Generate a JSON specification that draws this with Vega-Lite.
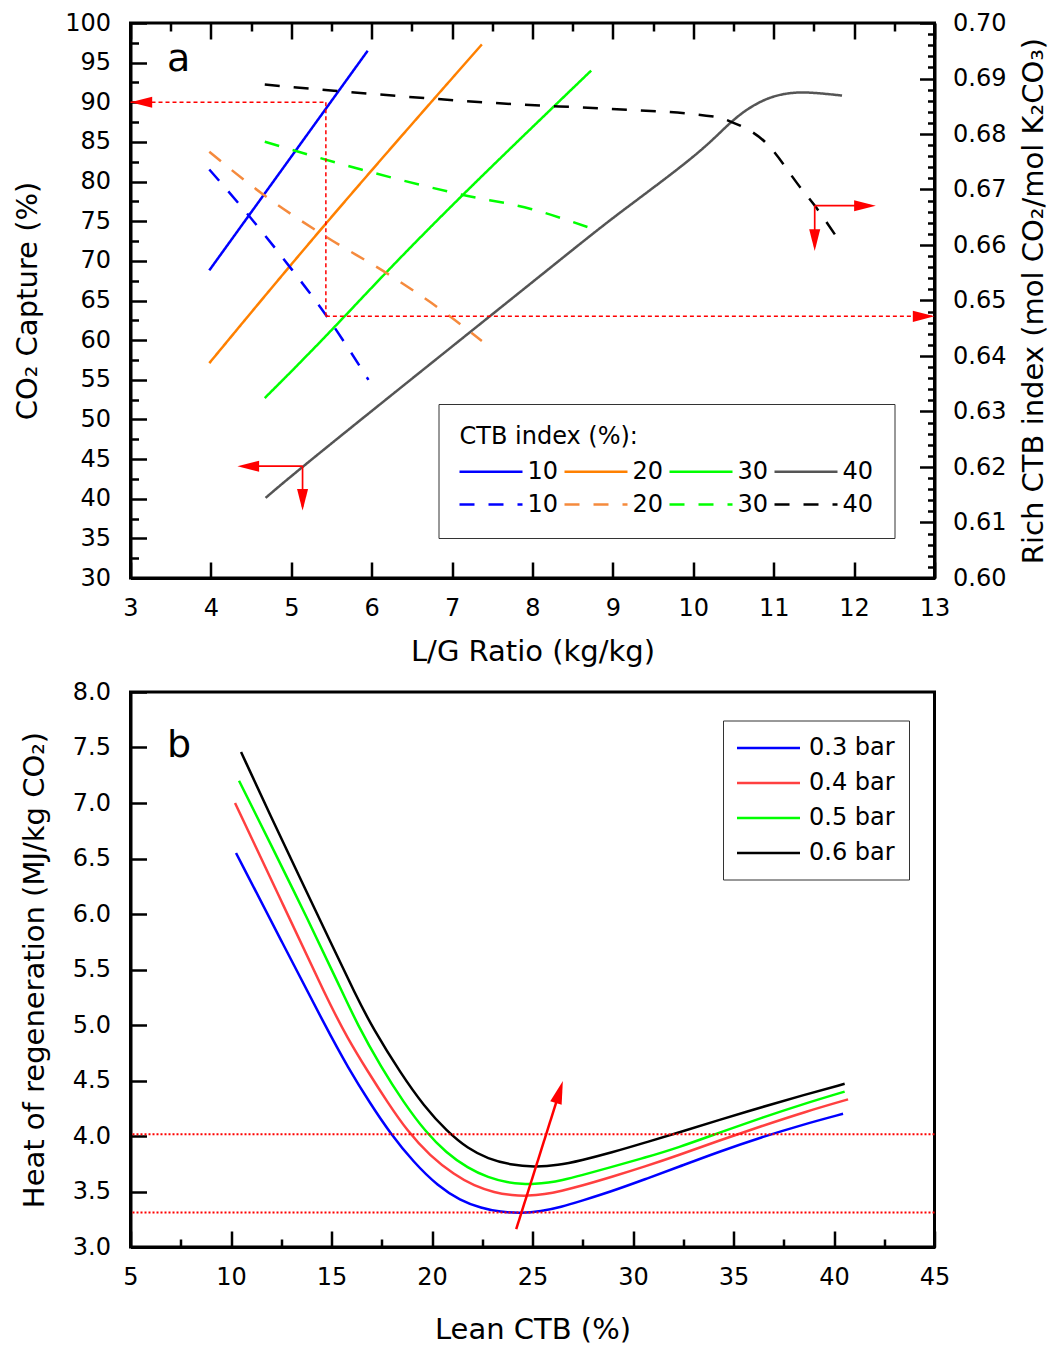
{
  "$schema": "https://vega.github.io/schema/vega-lite/v6.json",
  "background": "white",
  "padding": {"left": 11.5, "top": 9, "right": 5, "bottom": 3},
  "spacing": 114,
  "bounds": "flush",
  "config": {
    "font": "DejaVu Sans",
    "view": {"stroke": "black", "strokeWidth": 3},
    "axis": {
      "labelFont": "DejaVu Sans", "labelFontSize": 24, "labelColor": "black",
      "titleFont": "DejaVu Sans", "titleFontSize": 29, "titleFontWeight": "normal", "titleColor": "black",
      "domainColor": "black", "domainWidth": 3, "tickColor": "black", "tickWidth": 2.5,
      "grid": false, "labelFlush": false, "labelOverlap": false
    },
    "legend": {
      "labelFont": "DejaVu Sans", "labelFontSize": 24, "labelColor": "black",
      "titleFont": "DejaVu Sans", "titleFontSize": 24, "titleFontWeight": "normal", "titleColor": "black"
    }
  },
  "resolve": {
    "scale": {"color": "independent", "strokeDash": "independent"},
    "legend": {"color": "independent", "strokeDash": "independent"}
  },
  "vconcat": [
    {
      "width": 804,
      "height": 555,
      "resolve": {"scale": {"y": "independent"}, "axis": {"x": "independent", "y": "independent"}},
      "layer": [
        {
          "data": {"values": [
            {"key": "s10", "lg": 3.98, "capture": 68.8},
            {"key": "s10", "lg": 5.95, "capture": 96.5},
            {"key": "s20", "lg": 3.98, "capture": 57.1},
            {"key": "s20", "lg": 5.43, "capture": 74.9},
            {"key": "s20", "lg": 7.37, "capture": 97.3},
            {"key": "s30", "lg": 4.67, "capture": 52.7},
            {"key": "s30", "lg": 5.37, "capture": 59.8},
            {"key": "s30", "lg": 6.16, "capture": 68.4},
            {"key": "s30", "lg": 7.11, "capture": 78.2},
            {"key": "s30", "lg": 8.73, "capture": 94.0},
            {"key": "s40", "lg": 4.68, "capture": 40.1},
            {"key": "s40", "lg": 5.14, "capture": 44.1},
            {"key": "s40", "lg": 7.98, "capture": 67.15},
            {"key": "s40", "lg": 8.855, "capture": 74.31},
            {"key": "s40", "lg": 9.27, "capture": 77.46},
            {"key": "s40", "lg": 9.686, "capture": 80.62},
            {"key": "s40", "lg": 9.976, "capture": 82.93},
            {"key": "s40", "lg": 10.22, "capture": 85.04},
            {"key": "s40", "lg": 10.47, "capture": 87.56},
            {"key": "s40", "lg": 10.68, "capture": 89.24},
            {"key": "s40", "lg": 10.93, "capture": 90.6},
            {"key": "s40", "lg": 11.18, "capture": 91.2},
            {"key": "s40", "lg": 11.43, "capture": 91.3},
            {"key": "s40", "lg": 11.85, "capture": 90.85}
          ]},
          "mark": {"type": "line", "strokeWidth": 2.5, "interpolate": "basis"},
          "encoding": {
            "x": {
              "field": "lg", "type": "quantitative",
              "scale": {"domain": [3, 13], "nice": false, "zero": false},
              "axis": {
                "orient": "bottom",
                "values": [3,3.5,4,4.5,5,5.5,6,6.5,7,7.5,8,8.5,9,9.5,10,10.5,11,11.5,12,12.5,13],
                "format": "d",
                "labelExpr": "datum.value % 1 === 0 ? datum.label : ''",
                "tickSize": {"condition": {"test": "datum.value % 1 === 0", "value": -16}, "value": -8},
                "labelPadding": 34,
                "title": "L/G Ratio (kg/kg)",
                "titlePadding": 17
              }
            },
            "y": {
              "field": "capture", "type": "quantitative",
              "scale": {"domain": [30, 100], "nice": false, "zero": false},
              "axis": {
                "orient": "left",
                "values": [30,32.5,35,37.5,40,42.5,45,47.5,50,52.5,55,57.5,60,62.5,65,67.5,70,72.5,75,77.5,80,82.5,85,87.5,90,92.5,95,97.5,100],
                "format": "d",
                "labelExpr": "datum.value % 5 === 0 ? datum.label : ''",
                "tickSize": {"condition": {"test": "datum.value % 5 === 0", "value": -16}, "value": -8},
                "labelPadding": 36,
                "title": "CO₂ Capture (%)",
                "titlePadding": 22
              }
            },
            "color": {
              "field": "key", "type": "nominal",
              "scale": {
                "domain": ["s10","s20","s30","s40","d10","d20","d30","d40"],
                "range": ["#0000FF","#FF8000","#00FF00","#555555","#0000FF","#F58A3D","#00FF00","#000000"]
              },
              "legend": {
                "title": "CTB index (%):", "orient": "none", "legendX": 308, "legendY": 381,
                "columns": 4, "direction": "horizontal", "symbolType": "M-1.125,0L4.125,0", "symbolSize": 576,
                "symbolStrokeWidth": 2.5, "labelExpr": "substring(datum.label, 1)", "padding": 21,
                "strokeColor": "#333333", "rowPadding": 7, "columnPadding": 1,
                "labelOffset": 41, "titlePadding": 9, "titleAnchor": "start"
              }
            },
            "strokeDash": {
              "field": "key", "type": "nominal",
              "scale": {
                "domain": ["s10","s20","s30","s40","d10","d20","d30","d40"],
                "range": [[1,0],[1,0],[1,0],[1,0],[15,14],[15,14],[15,14],[15,14]]
              },
              "legend": {
                "title": "CTB index (%):", "orient": "none", "legendX": 308, "legendY": 381,
                "columns": 4, "direction": "horizontal", "symbolType": "M-1.125,0L4.125,0", "symbolSize": 576,
                "symbolStrokeWidth": 2.5, "labelExpr": "substring(datum.label, 1)", "padding": 21,
                "strokeColor": "#333333", "rowPadding": 7, "columnPadding": 1,
                "labelOffset": 41, "titlePadding": 9, "titleAnchor": "start"
              }
            }
          }
        },
        {
          "data": {"values": [
            {"key": "d10", "lg": 3.98, "rich": 0.6736},
            {"key": "d10", "lg": 4.46, "rich": 0.6655},
            {"key": "d10", "lg": 5.0, "rich": 0.6557},
            {"key": "d10", "lg": 5.43, "rich": 0.6474},
            {"key": "d10", "lg": 5.96, "rich": 0.6357},
            {"key": "d20", "lg": 3.98, "rich": 0.6768},
            {"key": "d20", "lg": 4.65, "rich": 0.6691},
            {"key": "d20", "lg": 5.43, "rich": 0.6615},
            {"key": "d20", "lg": 6.2, "rich": 0.6548},
            {"key": "d20", "lg": 6.95, "rich": 0.6474},
            {"key": "d20", "lg": 7.37, "rich": 0.6427},
            {"key": "d30", "lg": 4.67, "rich": 0.6786},
            {"key": "d30", "lg": 5.87, "rich": 0.6736},
            {"key": "d30", "lg": 7.11, "rich": 0.6691},
            {"key": "d30", "lg": 7.98, "rich": 0.6665},
            {"key": "d30", "lg": 8.71, "rich": 0.6631},
            {"key": "d40", "lg": 4.67, "rich": 0.6889},
            {"key": "d40", "lg": 5.53, "rich": 0.6878},
            {"key": "d40", "lg": 7.86, "rich": 0.6853},
            {"key": "d40", "lg": 8.86, "rich": 0.6846},
            {"key": "d40", "lg": 10.27, "rich": 0.6831},
            {"key": "d40", "lg": 10.47, "rich": 0.6822},
            {"key": "d40", "lg": 10.89, "rich": 0.6786},
            {"key": "d40", "lg": 11.34, "rich": 0.6702},
            {"key": "d40", "lg": 11.51, "rich": 0.6671},
            {"key": "d40", "lg": 11.78, "rich": 0.6615}
          ]},
          "mark": {"type": "line", "strokeWidth": 2.5, "interpolate": "monotone"},
          "encoding": {
            "x": {
              "field": "lg", "type": "quantitative",
              "scale": {"domain": [3, 13], "nice": false, "zero": false},
              "axis": {
                "orient": "top",
                "values": [3,3.5,4,4.5,5,5.5,6,6.5,7,7.5,8,8.5,9,9.5,10,10.5,11,11.5,12,12.5,13],
                "labels": false, "domain": false, "title": null,
                "tickSize": {"condition": {"test": "datum.value % 1 === 0", "value": -16}, "value": -8}
              }
            },
            "y": {
              "field": "rich", "type": "quantitative",
              "scale": {"domain": [0.6, 0.7], "nice": false, "zero": false},
              "axis": {
                "orient": "right",
                "values": [0.6,0.602,0.604,0.606,0.608,0.61,0.612,0.614,0.616,0.618,0.62,0.622,0.624,0.626,0.628,0.63,0.632,0.634,0.636,0.638,0.64,0.642,0.644,0.646,0.648,0.65,0.652,0.654,0.656,0.658,0.66,0.662,0.664,0.666,0.668,0.67,0.672,0.674,0.676,0.678,0.68,0.682,0.684,0.686,0.688,0.69,0.692,0.694,0.696,0.698,0.7],
                "format": ".2f",
                "labelExpr": "abs(datum.value*100 - round(datum.value*100)) < 0.000001 ? datum.label : ''",
                "tickSize": {"condition": {"test": "abs(datum.value*100 - round(datum.value*100)) < 0.000001", "value": -15}, "value": -7},
                "labelPadding": 33,
                "title": "Rich CTB index (mol CO₂/mol K₂CO₃)",
                "titleAngle": 270,
                "titleBaseline": "top",
                "titlePadding": 14
              }
            },
            "color": {"field": "key", "type": "nominal"},
            "strokeDash": {"field": "key", "type": "nominal"}
          }
        },
        {
          "data": {"values": [
            {"lg": 3.0, "capture": 90, "lg2": 5.43, "capture2": 90},
            {"lg": 5.43, "capture": 90, "lg2": 5.43, "capture2": 63},
            {"lg": 5.43, "capture": 63, "lg2": 13.0, "capture2": 63}
          ]},
          "mark": {"type": "rule", "color": "#FF0000", "strokeWidth": 1.5, "strokeDash": [4, 3]},
          "encoding": {
            "x": {"field": "lg", "type": "quantitative", "scale": {"domain": [3, 13], "nice": false, "zero": false}, "axis": null},
            "y": {"field": "capture", "type": "quantitative", "scale": {"domain": [30, 100], "nice": false, "zero": false}, "axis": null},
            "x2": {"field": "lg2"},
            "y2": {"field": "capture2"}
          }
        },
        {
          "data": {"values": [
            {"lg": 5.14, "capture": 44.1, "lg2": 4.4, "capture2": 44.1},
            {"lg": 5.14, "capture": 44.1, "lg2": 5.14, "capture2": 39.0},
            {"lg": 11.51, "capture": 76.96, "lg2": 12.2, "capture2": 76.96},
            {"lg": 11.51, "capture": 76.96, "lg2": 11.51, "capture2": 71.8}
          ]},
          "mark": {"type": "rule", "color": "#FF0000", "strokeWidth": 1.7},
          "encoding": {
            "x": {"field": "lg", "type": "quantitative", "scale": {"domain": [3, 13], "nice": false, "zero": false}, "axis": null},
            "y": {"field": "capture", "type": "quantitative", "scale": {"domain": [30, 100], "nice": false, "zero": false}, "axis": null},
            "x2": {"field": "lg2"},
            "y2": {"field": "capture2"}
          }
        },
        {
          "data": {"values": [
            {"lg": 3.0, "capture": 90},
            {"lg": 4.33, "capture": 44.1}
          ]},
          "mark": {"type": "point", "shape": "M0,0L2,-0.51L2,0.51Z", "filled": true, "color": "#FF0000", "opacity": 1, "size": 470},
          "encoding": {
            "x": {"field": "lg", "type": "quantitative", "scale": {"domain": [3, 13], "nice": false, "zero": false}, "axis": null},
            "y": {"field": "capture", "type": "quantitative", "scale": {"domain": [30, 100], "nice": false, "zero": false}, "axis": null}
          }
        },
        {
          "data": {"values": [
            {"lg": 13.0, "capture": 63},
            {"lg": 12.27, "capture": 76.96}
          ]},
          "mark": {"type": "point", "shape": "M0,0L-2,-0.51L-2,0.51Z", "filled": true, "color": "#FF0000", "opacity": 1, "size": 470},
          "encoding": {
            "x": {"field": "lg", "type": "quantitative", "scale": {"domain": [3, 13], "nice": false, "zero": false}, "axis": null},
            "y": {"field": "capture", "type": "quantitative", "scale": {"domain": [30, 100], "nice": false, "zero": false}, "axis": null}
          }
        },
        {
          "data": {"values": [
            {"lg": 5.14, "capture": 38.5},
            {"lg": 11.51, "capture": 71.24}
          ]},
          "mark": {"type": "point", "shape": "M0,0L-0.51,-2L0.51,-2Z", "filled": true, "color": "#FF0000", "opacity": 1, "size": 470},
          "encoding": {
            "x": {"field": "lg", "type": "quantitative", "scale": {"domain": [3, 13], "nice": false, "zero": false}, "axis": null},
            "y": {"field": "capture", "type": "quantitative", "scale": {"domain": [30, 100], "nice": false, "zero": false}, "axis": null}
          }
        },
        {
          "data": {"values": [{"lg": 3.6, "capture": 93.9, "label": "a"}]},
          "mark": {"type": "text", "fontSize": 38, "font": "DejaVu Sans", "align": "center", "baseline": "alphabetic", "color": "black"},
          "encoding": {
            "x": {"field": "lg", "type": "quantitative", "scale": {"domain": [3, 13], "nice": false, "zero": false}, "axis": null},
            "y": {"field": "capture", "type": "quantitative", "scale": {"domain": [30, 100], "nice": false, "zero": false}, "axis": null},
            "text": {"field": "label"}
          }
        }
      ]
    },
    {
      "width": 804,
      "height": 555,
      "layer": [
        {
          "data": {"values": [
            {"p": "0.3 bar", "lean": 10.25, "heat": 6.55},
            {"p": "0.3 bar", "lean": 12.5, "heat": 5.76},
            {"p": "0.3 bar", "lean": 14.78, "heat": 4.96},
            {"p": "0.3 bar", "lean": 15.81, "heat": 4.62},
            {"p": "0.3 bar", "lean": 16.9, "heat": 4.3},
            {"p": "0.3 bar", "lean": 17.9, "heat": 4.03},
            {"p": "0.3 bar", "lean": 19.1, "heat": 3.76},
            {"p": "0.3 bar", "lean": 20.29, "heat": 3.55},
            {"p": "0.3 bar", "lean": 21.4, "heat": 3.42},
            {"p": "0.3 bar", "lean": 22.45, "heat": 3.35},
            {"p": "0.3 bar", "lean": 23.4, "heat": 3.315},
            {"p": "0.3 bar", "lean": 24.44, "heat": 3.305},
            {"p": "0.3 bar", "lean": 25.4, "heat": 3.32},
            {"p": "0.3 bar", "lean": 26.43, "heat": 3.36},
            {"p": "0.3 bar", "lean": 27.42, "heat": 3.415},
            {"p": "0.3 bar", "lean": 28.92, "heat": 3.5},
            {"p": "0.3 bar", "lean": 30.6, "heat": 3.61},
            {"p": "0.3 bar", "lean": 32.24, "heat": 3.72},
            {"p": "0.3 bar", "lean": 34.3, "heat": 3.86},
            {"p": "0.3 bar", "lean": 36.41, "heat": 3.99},
            {"p": "0.3 bar", "lean": 38.4, "heat": 4.1},
            {"p": "0.3 bar", "lean": 40.45, "heat": 4.2},
            {"p": "0.4 bar", "lean": 10.2, "heat": 7.0},
            {"p": "0.4 bar", "lean": 12.5, "heat": 6.12},
            {"p": "0.4 bar", "lean": 14.82, "heat": 5.22},
            {"p": "0.4 bar", "lean": 15.8, "heat": 4.88},
            {"p": "0.4 bar", "lean": 16.81, "heat": 4.58},
            {"p": "0.4 bar", "lean": 17.8, "heat": 4.3},
            {"p": "0.4 bar", "lean": 18.75, "heat": 4.05},
            {"p": "0.4 bar", "lean": 19.9, "heat": 3.82},
            {"p": "0.4 bar", "lean": 21.12, "heat": 3.65},
            {"p": "0.4 bar", "lean": 22.1, "heat": 3.55},
            {"p": "0.4 bar", "lean": 23.11, "heat": 3.49},
            {"p": "0.4 bar", "lean": 24.0, "heat": 3.465},
            {"p": "0.4 bar", "lean": 24.77, "heat": 3.46},
            {"p": "0.4 bar", "lean": 25.6, "heat": 3.475},
            {"p": "0.4 bar", "lean": 26.43, "heat": 3.505},
            {"p": "0.4 bar", "lean": 27.42, "heat": 3.55},
            {"p": "0.4 bar", "lean": 28.92, "heat": 3.63},
            {"p": "0.4 bar", "lean": 30.6, "heat": 3.725},
            {"p": "0.4 bar", "lean": 32.24, "heat": 3.825},
            {"p": "0.4 bar", "lean": 34.3, "heat": 3.96},
            {"p": "0.4 bar", "lean": 36.41, "heat": 4.09},
            {"p": "0.4 bar", "lean": 38.6, "heat": 4.22},
            {"p": "0.4 bar", "lean": 40.7, "heat": 4.33},
            {"p": "0.5 bar", "lean": 10.4, "heat": 7.2},
            {"p": "0.5 bar", "lean": 12.0, "heat": 6.62},
            {"p": "0.5 bar", "lean": 13.8, "heat": 5.96},
            {"p": "0.5 bar", "lean": 15.4, "heat": 5.35},
            {"p": "0.5 bar", "lean": 16.3, "heat": 5.0},
            {"p": "0.5 bar", "lean": 17.47, "heat": 4.62},
            {"p": "0.5 bar", "lean": 18.6, "heat": 4.3},
            {"p": "0.5 bar", "lean": 19.67, "heat": 4.04},
            {"p": "0.5 bar", "lean": 20.7, "heat": 3.85},
            {"p": "0.5 bar", "lean": 21.78, "heat": 3.71},
            {"p": "0.5 bar", "lean": 22.8, "heat": 3.625},
            {"p": "0.5 bar", "lean": 23.78, "heat": 3.58},
            {"p": "0.5 bar", "lean": 24.5, "heat": 3.567},
            {"p": "0.5 bar", "lean": 25.1, "heat": 3.567},
            {"p": "0.5 bar", "lean": 25.8, "heat": 3.58},
            {"p": "0.5 bar", "lean": 26.43, "heat": 3.6},
            {"p": "0.5 bar", "lean": 27.42, "heat": 3.645},
            {"p": "0.5 bar", "lean": 28.92, "heat": 3.72},
            {"p": "0.5 bar", "lean": 30.6, "heat": 3.805},
            {"p": "0.5 bar", "lean": 32.24, "heat": 3.895},
            {"p": "0.5 bar", "lean": 34.3, "heat": 4.03},
            {"p": "0.5 bar", "lean": 36.41, "heat": 4.165},
            {"p": "0.5 bar", "lean": 38.5, "heat": 4.29},
            {"p": "0.5 bar", "lean": 40.53, "heat": 4.4},
            {"p": "0.6 bar", "lean": 10.5, "heat": 7.46},
            {"p": "0.6 bar", "lean": 12.0, "heat": 6.87},
            {"p": "0.6 bar", "lean": 13.5, "heat": 6.3},
            {"p": "0.6 bar", "lean": 15.0, "heat": 5.73},
            {"p": "0.6 bar", "lean": 16.2, "heat": 5.27},
            {"p": "0.6 bar", "lean": 17.06, "heat": 4.97},
            {"p": "0.6 bar", "lean": 18.46, "heat": 4.56},
            {"p": "0.6 bar", "lean": 19.6, "heat": 4.27},
            {"p": "0.6 bar", "lean": 20.75, "heat": 4.04},
            {"p": "0.6 bar", "lean": 21.8, "heat": 3.885},
            {"p": "0.6 bar", "lean": 22.78, "heat": 3.795},
            {"p": "0.6 bar", "lean": 23.9, "heat": 3.74},
            {"p": "0.6 bar", "lean": 25.1, "heat": 3.72},
            {"p": "0.6 bar", "lean": 26.26, "heat": 3.735},
            {"p": "0.6 bar", "lean": 27.42, "heat": 3.78},
            {"p": "0.6 bar", "lean": 28.92, "heat": 3.85},
            {"p": "0.6 bar", "lean": 30.6, "heat": 3.94},
            {"p": "0.6 bar", "lean": 32.24, "heat": 4.03},
            {"p": "0.6 bar", "lean": 34.3, "heat": 4.145},
            {"p": "0.6 bar", "lean": 36.41, "heat": 4.26},
            {"p": "0.6 bar", "lean": 38.5, "heat": 4.37},
            {"p": "0.6 bar", "lean": 40.53, "heat": 4.47}
          ]},
          "mark": {"type": "line", "strokeWidth": 2.5, "interpolate": "basis"},
          "encoding": {
            "x": {
              "field": "lean", "type": "quantitative",
              "scale": {"domain": [5, 45], "nice": false, "zero": false},
              "axis": {
                "values": [5,7.5,10,12.5,15,17.5,20,22.5,25,27.5,30,32.5,35,37.5,40,42.5,45],
                "format": "d",
                "labelExpr": "datum.value % 5 === 0 ? datum.label : ''",
                "tickSize": {"condition": {"test": "datum.value % 5 === 0", "value": -16}, "value": -8},
                "labelPadding": 34,
                "title": "Lean CTB (%)",
                "titlePadding": 18
              }
            },
            "y": {
              "field": "heat", "type": "quantitative",
              "scale": {"domain": [3, 8], "nice": false, "zero": false},
              "axis": {
                "values": [3,3.25,3.5,3.75,4,4.25,4.5,4.75,5,5.25,5.5,5.75,6,6.25,6.5,6.75,7,7.25,7.5,7.75,8],
                "format": ".1f",
                "labelExpr": "(datum.value * 2) % 1 === 0 ? datum.label : ''",
                "tickSize": {"condition": {"test": "(datum.value * 2) % 1 === 0", "value": -16}, "value": -8},
                "labelPadding": 36,
                "title": "Heat of regeneration (MJ/kg CO₂)",
                "titlePadding": 22.6
              }
            },
            "color": {
              "field": "p", "type": "nominal",
              "scale": {"domain": ["0.3 bar","0.4 bar","0.5 bar","0.6 bar"], "range": ["#0000FF","#FF4040","#00FF00","#000000"]},
              "legend": {
                "title": null, "orient": "none", "legendX": 592.5, "legendY": 28.5,
                "symbolType": "M-1.125,0L4.125,0", "symbolSize": 576, "symbolStrokeWidth": 2.5,
                "padding": 14, "strokeColor": "#333333",
                "rowPadding": 9, "labelOffset": 45
              }
            }
          }
        },
        {
          "data": {"values": [{"heat": 4.015}, {"heat": 3.31}]},
          "mark": {"type": "rule", "color": "#FF0000", "strokeWidth": 2, "strokeDash": [2, 2]},
          "encoding": {
            "y": {"field": "heat", "type": "quantitative"}
          }
        },
        {
          "data": {"values": [{"lean": 24.19, "heat": 3.16, "lean2": 26.4, "heat2": 4.43}]},
          "mark": {"type": "rule", "color": "#FF0000", "strokeWidth": 2.5},
          "encoding": {
            "x": {"field": "lean", "type": "quantitative"},
            "y": {"field": "heat", "type": "quantitative"},
            "x2": {"field": "lean2"},
            "y2": {"field": "heat2"}
          }
        },
        {
          "data": {"values": [{"lean": 26.51, "heat": 4.495}]},
          "mark": {"type": "point", "shape": "M0,0L-0.52,2L0.52,2Z", "angle": 17.5, "filled": true, "color": "#FF0000", "opacity": 1, "size": 530},
          "encoding": {
            "x": {"field": "lean", "type": "quantitative"},
            "y": {"field": "heat", "type": "quantitative"}
          }
        },
        {
          "data": {"values": [{"lean": 7.41, "heat": 7.41, "label": "b"}]},
          "mark": {"type": "text", "fontSize": 38, "font": "DejaVu Sans", "align": "center", "baseline": "alphabetic", "color": "black"},
          "encoding": {
            "x": {"field": "lean", "type": "quantitative"},
            "y": {"field": "heat", "type": "quantitative"},
            "text": {"field": "label"}
          }
        }
      ]
    }
  ]
}
